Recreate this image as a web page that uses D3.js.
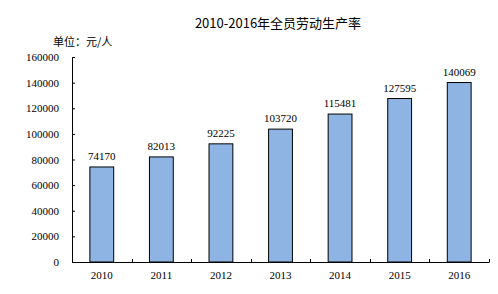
<!DOCTYPE html>
<html>
<head>
<meta charset="utf-8">
<script src="https://cdn.jsdelivr.net/npm/d3@7"></script>
<style>
body { margin: 0; background: #fff; }
</style>
</head>
<body>
<div class="chart"></div>
<script>
var years = ['2010', '2011', '2012', '2013', '2014', '2015', '2016']
var values = [74170, 82013, 92225, 103720, 115481, 127595, 140069]
var yTicks = [0, 20000, 40000, 60000, 80000, 100000, 120000, 140000, 160000]

var svg = d3.select('.chart')
    .append('svg')
    .attr('width', 498)
    .attr('height', 294)

var x = d3.scaleBand().domain(years).range([72, 489]).paddingInner(0.6).paddingOuter(0.3)
var y = d3.scaleLinear().domain([0, 160000]).range([262, 57])

var serif = '"Liberation Serif", "Times New Roman", serif'
var cjk = '"Noto Sans CJK SC", sans-serif'

// title + unit
svg.append('text')
    .attr('x', 278).attr('y', 28)
    .attr('text-anchor', 'middle')
    .style('font-family', cjk).style('font-size', '13px')
    .text('2010-2016年全员劳动生产率')

svg.append('text')
    .attr('x', 53).attr('y', 46)
    .style('font-family', cjk).style('font-size', '11px')
    .text('单位：元/人')

// bars
svg.selectAll('rect.bar')
    .data(values)
    .enter()
    .append('rect')
    .attr('class', 'bar')
    .attr('x', (d, i) => x(years[i]))
    .attr('width', x.bandwidth())
    .attr('y', d => y(d))
    .attr('height', d => y(0) - y(d))
    .attr('fill', '#8EB4E3')
    .attr('stroke', '#000')
    .attr('stroke-width', 1)

svg.selectAll('text.val')
    .data(values)
    .enter()
    .append('text')
    .attr('class', 'val')
    .attr('x', (d, i) => x(years[i]) + x.bandwidth() / 2)
    .attr('y', d => y(d) - 7)
    .attr('text-anchor', 'middle')
    .style('font-family', serif).style('font-size', '11px')
    .text(d => d)

// y axis, ticks pointing inward
var yAxis = svg.append('g')
    .attr('transform', 'translate(72,0)')
    .call(d3.axisRight(y).tickValues(yTicks).tickSize(3).tickFormat(''))
yAxis.select('.domain').attr('d', 'M0.5,' + y(160000) + 'V' + y(0))
yAxis.selectAll('line').attr('stroke', '#000')

svg.selectAll('text.ytick')
    .data(yTicks)
    .enter()
    .append('text')
    .attr('class', 'ytick')
    .attr('x', 59)
    .attr('y', d => y(d) + 4)
    .attr('text-anchor', 'end')
    .style('font-family', serif).style('font-size', '11px')
    .text(d => d)

// x axis with ticks at band edges
var edges = years.map(d => x(d) - x.step() * x.paddingInner() / 2).concat([489])
svg.append('line')
    .attr('x1', 72).attr('x2', 489.5)
    .attr('y1', 262.5).attr('y2', 262.5)
    .attr('stroke', '#000')
svg.selectAll('line.xt')
    .data(edges.slice(1))
    .enter()
    .append('line')
    .attr('class', 'xt')
    .attr('x1', d => Math.round(d) + 0.5).attr('x2', d => Math.round(d) + 0.5)
    .attr('y1', 262).attr('y2', 259)
    .attr('stroke', '#000')

svg.selectAll('text.xl')
    .data(years)
    .enter()
    .append('text')
    .attr('class', 'xl')
    .attr('x', d => x(d) + x.bandwidth() / 2)
    .attr('y', 279)
    .attr('text-anchor', 'middle')
    .style('font-family', serif).style('font-size', '11px')
    .text(d => d)
</script>
</body>
</html>
